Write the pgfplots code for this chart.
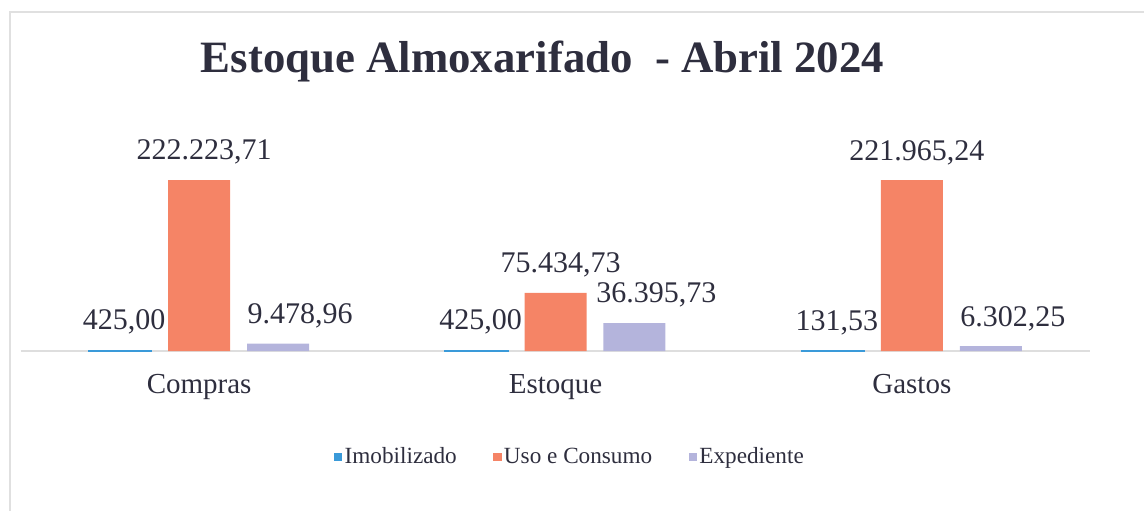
\documentclass[border=0pt]{standalone}
\usepackage{pgfplots}
\pgfplotsset{compat=1.18}
\usepackage{fontspec}
\setmainfont{Liberation Serif}
\definecolor{imob}{HTML}{3A9AD9}
\definecolor{uso}{HTML}{F58466}
\definecolor{exped}{HTML}{B4B4DC}
\definecolor{txt}{HTML}{2E2E3E}
\begin{document}
\begin{tikzpicture}
\path[use as bounding box] (0,0) rectangle (572pt,255.5pt);
\draw[black!12, line width=0.6pt] (5pt,0) -- (5pt,249.5pt) -- (572pt,249.5pt);
\node[anchor=base, text=txt, font=\fontsize{22.4}{26}\selectfont\bfseries] at (271.25pt,219.5pt) {Estoque Almoxarifado\ \ - Abril 2024};
\begin{axis}[
  at={(10.5pt,80pt)}, anchor=south west,
  scale only axis, width=534.5pt, height=105.5pt,
  xmin=-0.5, xmax=2.5, ymin=0, ymax=274200,
  axis y line=none, axis x line*=bottom,
  x axis line style={-, draw=black!13, line width=0.8pt},
  ytick=\empty,
  xtick={0,1,2}, xticklabels={Compras,Estoque,Gastos},
  xtick style={draw=none},
  xticklabel style={anchor=base, yshift=-17pt, text=txt, font=\fontsize{14.5}{17}\selectfont},
  ybar, bar width=0.174,
  point meta=explicit symbolic,
  nodes near coords,
  nodes near coords style={anchor=south, inner sep=0pt, yshift=7.5pt, text=txt, font=\fontsize{15}{18}\selectfont},
  clip=false,
  legend columns=3,
  legend style={at={(0.5136,-0.502)}, anchor=center, draw=none, fill=none,
    font=\fontsize{11.6}{14}\selectfont, text=txt,
    /tikz/every even column/.append style={column sep=17pt},
    nodes={inner sep=1.2pt}},
  sqleg/.style={legend image code/.code={\fill[##1,draw=none] (-1.2pt,-2.1pt) rectangle (3pt,2.1pt);}},
]
\addplot[fill=imob, draw=imob, line width=1.1pt, bar shift=0pt, sqleg,
  every node near coord/.append style={xshift=2pt}] table[x=x, y=y, meta=lab] {
x y lab
-0.2216 425.00 425,00
0.7784 425.00 425,00
1.7784 131.53 131,53
};
\addplot[fill=uso, draw=none, bar shift=0pt, sqleg,
  every node near coord/.append style={xshift=2.5pt}] table[x=x, y=y, meta=lab] {
x y lab
0 222223.71 222.223,71
1 75434.73 75.434,73
2 221965.24 221.965,24
};
\addplot[fill=exped, draw=none, bar shift=0pt, sqleg,
  every node near coord/.append style={xshift=11pt}] table[x=x, y=y, meta=lab] {
x y lab
0.2216 9478.96 9.478,96
1.2216 36395.73 36.395,73
2.2216 6302.25 6.302,25
};
\legend{Imobilizado, Uso e Consumo, Expediente}
\end{axis}
\end{tikzpicture}
\end{document}
